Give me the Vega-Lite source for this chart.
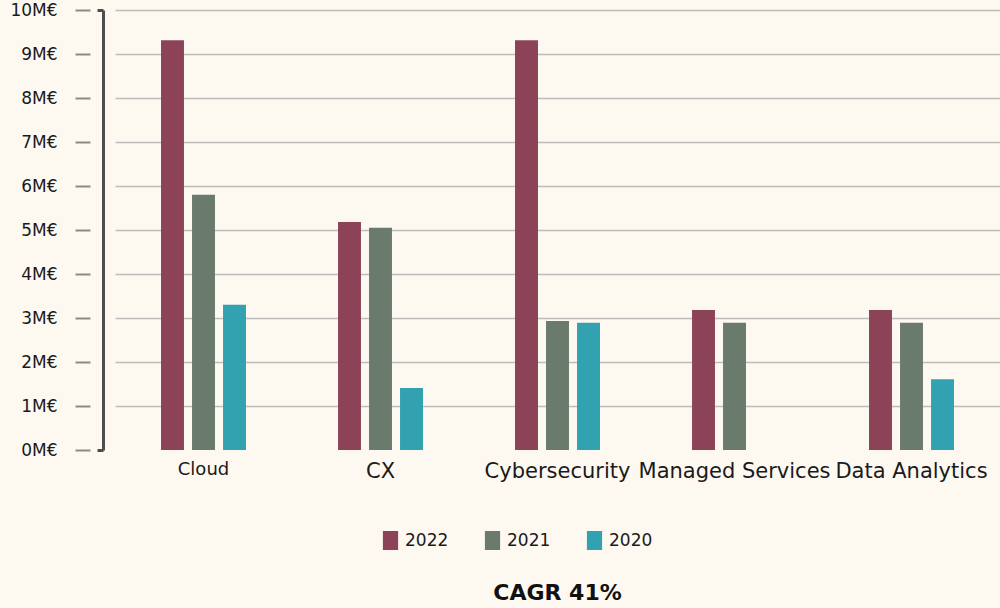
{
  "$schema": "https://vega.github.io/schema/vega-lite/v6.json",
  "autosize": {"type": "none"},
  "width": 885,
  "height": 440,
  "padding": {"left": 115, "top": 10, "right": 0, "bottom": 158},
  "background": "#fdf9f1",
  "config": {
    "view": {"stroke": null},
    "font": "DejaVu Sans"
  },
  "title": {
    "text": "CAGR 41%",
    "orient": "bottom",
    "fontSize": 22,
    "fontWeight": "bold",
    "color": "#111111",
    "offset": 33
  },
  "data": {
    "values": [
      {"area": "Cloud", "year": "2022", "revenue_m": 9.31},
      {"area": "Cloud", "year": "2021", "revenue_m": 5.8},
      {"area": "Cloud", "year": "2020", "revenue_m": 3.3},
      {"area": "CX", "year": "2022", "revenue_m": 5.18},
      {"area": "CX", "year": "2021", "revenue_m": 5.05},
      {"area": "CX", "year": "2020", "revenue_m": 1.41},
      {"area": "Cybersecurity", "year": "2022", "revenue_m": 9.31},
      {"area": "Cybersecurity", "year": "2021", "revenue_m": 2.93},
      {"area": "Cybersecurity", "year": "2020", "revenue_m": 2.89},
      {"area": "Managed Services", "year": "2022", "revenue_m": 3.18},
      {"area": "Managed Services", "year": "2021", "revenue_m": 2.89},
      {"area": "Data Analytics", "year": "2022", "revenue_m": 3.18},
      {"area": "Data Analytics", "year": "2021", "revenue_m": 2.89},
      {"area": "Data Analytics", "year": "2020", "revenue_m": 1.61}
    ]
  },
  "resolve": {"axis": {"y": "independent"}},
  "layer": [
    {
      "mark": {"type": "bar"},
      "encoding": {
        "x": {
          "field": "area",
          "type": "nominal",
          "sort": null,
          "scale": {"paddingInner": 0.52, "paddingOuter": 0.26},
          "axis": {
            "title": null,
            "domain": false,
            "ticks": false,
            "labelAngle": 0,
            "labelPadding": 10,
            "labelLimit": 0,
            "labelColor": "#1a1a1a",
            "labelFontSize": {"condition": {"test": "datum.value == 'Cloud'", "value": 18}, "value": 21}
          }
        },
        "xOffset": {
          "field": "year",
          "type": "nominal",
          "scale": {"domain": ["2022", "2021", "2020"], "paddingInner": 0.26, "paddingOuter": 0}
        },
        "y": {
          "field": "revenue_m",
          "type": "quantitative",
          "scale": {"domain": [0, 10], "nice": false},
          "axis": {
            "title": null,
            "orient": "left",
            "values": [0, 1, 2, 3, 4, 5, 6, 7, 8, 9, 10],
            "labelExpr": "datum.value + 'M€'",
            "labelFontSize": 17,
            "labelColor": "#1a1a1a",
            "labelPadding": 18,
            "domain": false,
            "offset": 25,
            "tickSize": 15,
            "tickWidth": 2,
            "tickColor": "#8a8a8a",
            "grid": true,
            "gridColor": "#bdbdbd",
            "gridWidth": 1.5,
            "gridOpacity": {"condition": {"test": "datum.value == 0", "value": 0}, "value": 1}
          }
        },
        "color": {
          "field": "year",
          "type": "nominal",
          "scale": {"domain": ["2022", "2021", "2020"], "range": ["#8c4357", "#6a7a6c", "#32a1b0"]},
          "legend": {
            "title": null,
            "orient": "none",
            "direction": "horizontal",
            "legendX": 266,
            "legendY": 521,
            "symbolType": "M-0.8,-1H0.8V1H-0.8Z",
            "symbolSize": 361,
            "symbolStrokeWidth": 0,
            "labelFontSize": 17,
            "labelColor": "#1a1a1a",
            "labelOffset": 5,
            "columnPadding": 34
          }
        }
      }
    },
    {
      "mark": {"type": "rule", "strokeOpacity": 0},
      "encoding": {
        "y": {
          "datum": 0,
          "type": "quantitative",
          "axis": {
            "title": null,
            "orient": "left",
            "values": [0, 10],
            "labels": false,
            "grid": false,
            "domain": true,
            "domainColor": "#4d4d4d",
            "domainWidth": 3,
            "offset": 12,
            "tickSize": 6,
            "tickWidth": 3,
            "tickColor": "#4d4d4d"
          }
        }
      }
    }
  ]
}
